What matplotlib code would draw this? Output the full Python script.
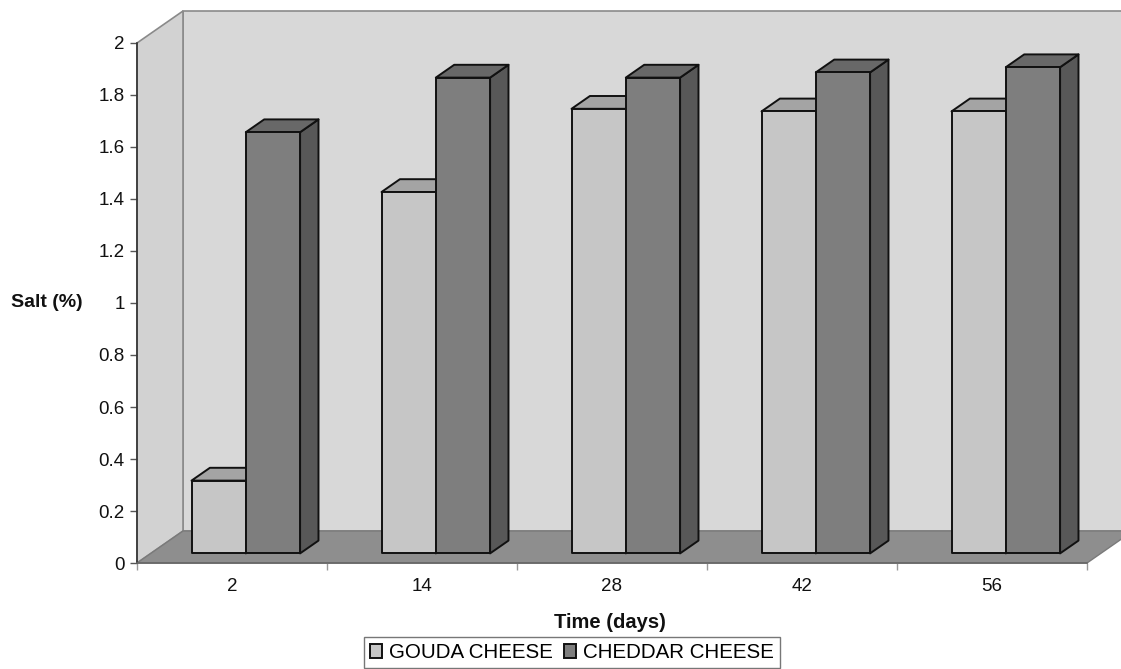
import matplotlib
matplotlib.use("Agg")
import matplotlib.pyplot as plt
from matplotlib.patches import Polygon, Patch
from matplotlib.ticker import FixedLocator, NullFormatter

plt.rcParams['font.family'] = ['Liberation Sans', 'DejaVu Sans']

# Salt content over ripening time
days = ["2", "14", "28", "42", "56"]
gouda = [0.28, 1.39, 1.71, 1.70, 1.70]
cheddar = [1.62, 1.83, 1.83, 1.85, 1.87]
series_names = ["GOUDA CHEESE", "CHEDDAR CHEESE"]
y_ticks = [0, 0.2, 0.4, 0.6, 0.8, 1, 1.2, 1.4, 1.6, 1.8, 2]
y_max = 2

# colours: front face, top face, side face
gouda_cols = ("#c6c6c6", "#a4a4a4", "#8c8c8c")
cheddar_cols = ("#7e7e7e", "#686868", "#585858")
wall_col = "#d8d8d8"
side_wall_col = "#d2d2d2"
floor_col = "#8e8e8e"

W, H, DPI = 1121, 669, 100
fig = plt.figure(figsize=(W / DPI, H / DPI), dpi=DPI)
ax = fig.add_axes([0, 0, 1, 1])
ax.set_facecolor("white")

n = len(days)
# pixel geometry of the front plane
x0_px, x1_px = 137, 1087
y0_px, y2_px = 563, 43
px_per_x = (x1_px - x0_px) / n
px_per_y = (y0_px - y2_px) / y_max
ax.set_xlim(-x0_px / px_per_x, (W - x0_px) / px_per_x)
ax.set_ylim(-(H - y0_px) / px_per_y, y0_px / px_per_y)

# depth vector of the 3-D box (data units)
ddx = 46 / px_per_x
ddy = 32 / px_per_y

# walls and floor
back = Polygon([(ddx, ddy), (n + ddx + 1, ddy), (n + ddx + 1, y_max + ddy), (ddx, y_max + ddy)],
               closed=True, facecolor=wall_col, edgecolor="#8a8a8a", lw=1.2, zorder=1)
side = Polygon([(0, 0), (ddx, ddy), (ddx, y_max + ddy), (0, y_max)],
               closed=True, facecolor=side_wall_col, edgecolor="#8a8a8a", lw=1.2, zorder=1.1)
floor = Polygon([(0, 0), (n, 0), (n + ddx, ddy), (ddx, ddy)],
                closed=True, facecolor=floor_col, edgecolor="#7a7a7a", lw=1.0, zorder=1.2)
for p in (back, side, floor):
    ax.add_patch(p)

# bars
gap_width = 1.5
bw = 1 / (2 + gap_width)
z_front, z_depth = 0.3, 0.4
fx, fy = z_front * ddx, z_front * ddy
bx, by = z_depth * ddx, z_depth * ddy


def box(xl, val, cols, z):
    xr = xl + bw
    xl, xr = xl + fx, xr + fx
    b, t = fy, val + fy
    front = [(xl, b), (xr, b), (xr, t), (xl, t)]
    top = [(xl, t), (xr, t), (xr + bx, t + by), (xl + bx, t + by)]
    rside = [(xr, b), (xr + bx, b + by), (xr + bx, t + by), (xr, t)]
    for verts, c in ((rside, cols[2]), (top, cols[1]), (front, cols[0])):
        ax.add_patch(Polygon(verts, closed=True, facecolor=c, edgecolor="#111111",
                             lw=1.4, joinstyle="round", zorder=z))


for i in range(n):
    c = i + 0.5
    box(c - bw, gouda[i], gouda_cols, 3 + i * 2)
    box(c, cheddar[i], cheddar_cols, 4 + i * 2)

# axes lines and ticks
for s in ("top", "right"):
    ax.spines[s].set_visible(False)
ax.spines["left"].set_position(("data", 0))
ax.spines["left"].set_bounds(0, y_max)
ax.spines["bottom"].set_position(("data", 0))
ax.spines["bottom"].set_bounds(0, n)
ax.spines["left"].set_color("#333333")
ax.spines["bottom"].set_color("#666666")
ax.spines["left"].set_linewidth(1.2)
ax.spines["bottom"].set_linewidth(1.2)
ax.spines["left"].set_zorder(2)
ax.spines["bottom"].set_zorder(2)

ax.set_yticks(y_ticks)
ax.set_yticklabels([f"{t:g}" for t in y_ticks])
ax.tick_params(axis="y", direction="out", length=5, width=1, color="#555555",
               labelsize=13.5, pad=4, labelcolor="#111111")

ax.xaxis.set_major_locator(FixedLocator(range(n + 1)))
ax.xaxis.set_major_formatter(NullFormatter())
ax.xaxis.set_minor_locator(FixedLocator([i + 0.5 for i in range(n)]))
ax.set_xticklabels(days, minor=True)
ax.tick_params(axis="x", which="major", direction="out", length=5, width=1, color="#999999")
ax.tick_params(axis="x", which="minor", length=0, labelsize=13.5, pad=11, labelcolor="#111111")

# axis titles
ax.text((47 - x0_px) / px_per_x, 1.0, "Salt (%)", fontsize=14, fontweight="bold",
        ha="center", va="center", color="#111111")
ax.text((610 - x0_px) / px_per_x, -(622 - y0_px) / px_per_y, "Time (days)", fontsize=14.5,
        fontweight="bold", ha="center", va="center", color="#111111")

# legend
handles = [Patch(facecolor=gouda_cols[0], edgecolor="#111111", lw=1.4),
           Patch(facecolor=cheddar_cols[0], edgecolor="#111111", lw=1.4)]
leg = fig.legend(handles, series_names, loc="upper center",
                 bbox_to_anchor=(572 / W, 1 - 637 / H), ncol=2, frameon=True,
                 fancybox=False, fontsize=14.8, handlelength=0.6, handleheight=0.7,
                 handletextpad=0.35, columnspacing=0.5, borderpad=0.3,
                 borderaxespad=0)
leg.get_frame().set_edgecolor("#555555")
leg.get_frame().set_linewidth(1.0)

fig.savefig("out.png", dpi=DPI, facecolor="white")
